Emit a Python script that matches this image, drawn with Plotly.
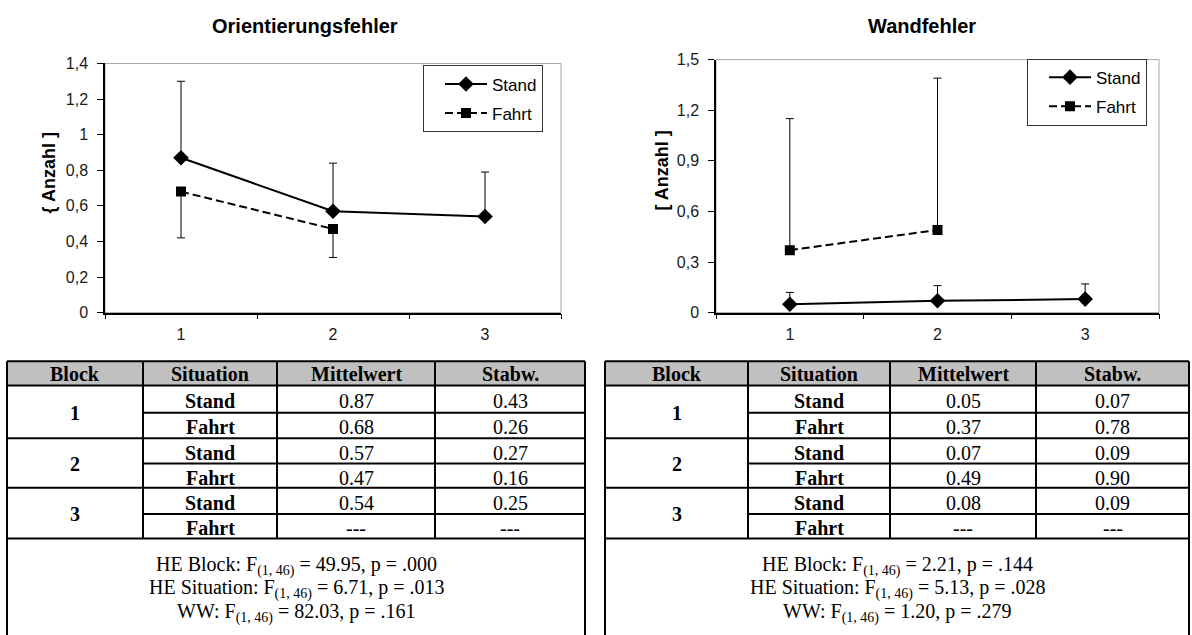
import plotly.graph_objects as go

W, H = 1192, 635

# ---------------- data ----------------
blocks = [1, 2, 3]
blocks_fahrt = [1, 2]
block_labels = ["1", "2", "3"]

orient_stand_mean = [0.87, 0.57, 0.54]
orient_stand_sd = [0.43, 0.27, 0.25]
orient_fahrt_mean = [0.68, 0.47]
orient_fahrt_sd = [0.26, 0.16]

wand_stand_mean = [0.05, 0.07, 0.08]
wand_stand_sd = [0.07, 0.09, 0.09]
wand_fahrt_mean = [0.37, 0.49]
wand_fahrt_sd = [0.78, 0.90]

orient_yticks = [0, 0.2, 0.4, 0.6, 0.8, 1.0, 1.2, 1.4]
orient_yticktext = ["0", "0,2", "0,4", "0,6", "0,8", "1", "1,2", "1,4"]
wand_yticks = [0, 0.3, 0.6, 0.9, 1.2, 1.5]
wand_yticktext = ["0", "0,3", "0,6", "0,9", "1,2", "1,5"]

table_header = ["Block", "Situation", "Mittelwert", "Stabw."]
situations = ["Stand", "Fahrt"]

orient_tests = [("HE Block", "49.95", ".000"),
                ("HE Situation", "6.71", ".013"),
                ("WW", "82.03", ".161")]
wand_tests = [("HE Block", "2.21", ".144"),
              ("HE Situation", "5.13", ".028"),
              ("WW", "1.20", ".279")]
df_text = "(1, 46)"

# ---------------- helpers ----------------
def fx(px):
    return px / W


def fy(py):
    return 1 - py / H


CHART_FONT = "Liberation Sans, Arial, sans-serif"
TABLE_FONT = "Liberation Serif, Times New Roman, serif"

fig = go.Figure()
shapes = []
annotations = []

panels = [
    dict(title="Orientierungsfehler", ylabel="{ Anzahl ]", xa="x", ya="y",
         x0=105, x1=561, ytop=57, ybot=313, ymax=1.4,
         yticks=orient_yticks, yticktext=orient_yticktext,
         stand=(orient_stand_mean, orient_stand_sd),
         fahrt=(orient_fahrt_mean, orient_fahrt_sd), fahrt_down=True,
         legend="legend", lx0=423, ly0=59, title_x=305, ylab_x=49, ylab_y=170),
    dict(title="Wandfehler", ylabel="[ Anzahl ]", xa="x2", ya="y2",
         x0=716, x1=1159, ytop=53, ybot=313, ymax=1.5,
         yticks=wand_yticks, yticktext=wand_yticktext,
         stand=(wand_stand_mean, wand_stand_sd),
         fahrt=(wand_fahrt_mean, wand_fahrt_sd), fahrt_down=False,
         legend="legend2", lx0=1027, ly0=52, title_x=922, ylab_x=662, ylab_y=167),
]

layout_axes = {}
for i, p in enumerate(panels):
    s_mean, s_sd = p["stand"]
    f_mean, f_sd = p["fahrt"]
    fig.add_trace(go.Scatter(
        x=blocks, y=s_mean, name="Stand", mode="lines+markers",
        xaxis=p["xa"], yaxis=p["ya"], legend=p["legend"], legendgroup="stand",
        line=dict(color="black", width=2),
        marker=dict(symbol="diamond", size=12, color="black"),
        error_y=dict(type="data", symmetric=False, array=s_sd,
                     arrayminus=[0] * len(s_sd), color="black",
                     thickness=1, width=4),
    ))
    if p["fahrt_down"]:
        err = dict(type="data", symmetric=False, array=[0] * len(f_sd),
                   arrayminus=f_sd, color="black", thickness=1, width=4)
    else:
        err = dict(type="data", symmetric=False, array=f_sd,
                   arrayminus=[0] * len(f_sd), color="black", thickness=1, width=4)
    fig.add_trace(go.Scatter(
        x=blocks_fahrt, y=f_mean, name="Fahrt", mode="lines+markers",
        xaxis=p["xa"], yaxis=p["ya"], legend=p["legend"], legendgroup="fahrt",
        line=dict(color="black", width=2, dash="8px,4px"),
        marker=dict(symbol="square", size=10, color="black"),
        error_y=err,
    ))

    suffix = "" if i == 0 else str(i + 1)
    layout_axes["xaxis" + suffix] = dict(
        domain=[fx(p["x0"]), fx(p["x1"])], anchor=p["ya"],
        range=[0.5, 3.5], tickvals=blocks, ticktext=block_labels,
        ticks="", ticklabelstandoff=6,
        showline=True, linecolor="black", linewidth=1.5,
        showgrid=False, zeroline=False,
        minor=dict(tickmode="array", tickvals=[0.5, 1.5, 2.5, 3.5],
                   ticks="outside", ticklen=5, tickcolor="black", tickwidth=1,
                   showgrid=False),
        tickfont=dict(family=CHART_FONT, size=16, color="#1a1a1a"),
    )
    layout_axes["yaxis" + suffix] = dict(
        domain=[fy(p["ybot"]), fy(p["ytop"])], anchor=p["xa"],
        range=[0, p["ymax"]], tickvals=p["yticks"], ticktext=p["yticktext"],
        ticks="outside", ticklen=6, tickcolor="black", tickwidth=1,
        ticklabelstandoff=6,
        showline=True, linecolor="black", linewidth=1.5,
        showgrid=False, zeroline=False,
        tickfont=dict(family=CHART_FONT, size=16, color="#1a1a1a"),
    )
    # light frame around the plot area
    shapes.append(dict(type="rect", xref=p["xa"] + " domain", yref=p["ya"] + " domain",
                       x0=0, x1=1, y0=0, y1=1, layer="below",
                       line=dict(color="#a6a6a6", width=1)))
    annotations.append(dict(text="<b>" + p["title"] + "</b>", x=fx(p["title_x"]),
                            y=fy(18), xref="paper", yref="paper", showarrow=False,
                            xanchor="center", yanchor="middle",
                            font=dict(family=CHART_FONT, size=20, color="black")))
    annotations.append(dict(text="<b>" + p["ylabel"] + "</b>", x=fx(p["ylab_x"]),
                            y=fy(p["ylab_y"]), xref="paper", yref="paper",
                            showarrow=False, textangle=-90,
                            xanchor="center", yanchor="middle",
                            font=dict(family=CHART_FONT, size=18, color="black")))
    layout_axes[p["legend"]] = dict(
        x=fx(p["lx0"]), y=fy(p["ly0"]), xanchor="left", yanchor="top",
        bordercolor="#333", borderwidth=1, bgcolor="white",
        tracegroupgap=4, itemwidth=42, indentation=16,
        font=dict(family=CHART_FONT, size=17, color="black"),
    )


# ---------------- tables ----------------
def add_table(cols, stand_mean, stand_sd, fahrt_mean, fahrt_sd, tests):
    top, head_bot = 363, 388
    row_edges = [388, 416, 442, 468, 493, 520, 545]
    bottom = 660
    xl, xr = cols[0], cols[-1]
    line = dict(color="black", width=2)

    def hline(y, a, b):
        shapes.append(dict(type="line", xref="paper", yref="paper",
                           x0=fx(a), x1=fx(b), y0=fy(y), y1=fy(y), line=line))

    def vline(x, a, b):
        shapes.append(dict(type="line", xref="paper", yref="paper",
                           x0=fx(x), x1=fx(x), y0=fy(a), y1=fy(b), line=line))

    shapes.append(dict(type="rect", xref="paper", yref="paper",
                       x0=fx(xl), x1=fx(xr), y0=fy(head_bot), y1=fy(top),
                       fillcolor="#c0c0c0", line=dict(width=0), layer="below"))
    hline(top, xl, xr)
    hline(head_bot, xl, xr)
    for k, y in enumerate(row_edges[1:]):
        if k % 2 == 0:
            hline(y, cols[1], xr)
        else:
            hline(y, xl, xr)
    vline(xl, top, bottom)
    vline(xr, top, bottom)
    for c in cols[1:-1]:
        vline(c, top, row_edges[-1])

    def txt(s, xc, yc, bold=False):
        annotations.append(dict(text=("<b>%s</b>" % s) if bold else s,
                                x=fx(xc), y=fy(yc), xref="paper", yref="paper",
                                showarrow=False, xanchor="center", yanchor="middle",
                                font=dict(family=TABLE_FONT, size=20, color="black")))

    centers = [(cols[j] + cols[j + 1]) / 2 for j in range(4)]
    for j, h in enumerate(table_header):
        txt(h, centers[j], (top + head_bot) / 2 + 1, bold=True)

    for b in range(len(blocks)):
        r0 = row_edges[2 * b]
        r1 = row_edges[2 * b + 1]
        r2 = row_edges[2 * b + 2]
        txt(block_labels[b], centers[0], (r0 + r2) / 2 + 1, bold=True)
        txt(situations[0], centers[1], (r0 + r1) / 2 + 2, bold=True)
        txt("%.2f" % stand_mean[b], centers[2], (r0 + r1) / 2 + 2)
        txt("%.2f" % stand_sd[b], centers[3], (r0 + r1) / 2 + 2)
        txt(situations[1], centers[1], (r1 + r2) / 2 + 2, bold=True)
        if b < len(fahrt_mean):
            txt("%.2f" % fahrt_mean[b], centers[2], (r1 + r2) / 2 + 2)
            txt("%.2f" % fahrt_sd[b], centers[3], (r1 + r2) / 2 + 2)
        else:
            txt("---", centers[2], (r1 + r2) / 2 + 2)
            txt("---", centers[3], (r1 + r2) / 2 + 2)

    mid = (xl + xr) / 2
    for k, (lab, fval, pval) in enumerate(tests):
        s = "%s: F<sub>%s</sub> = %s, p = %s" % (lab, df_text, fval, pval)
        txt(s, mid, [573, 597, 622][k])


add_table([7, 143, 277, 435, 585], orient_stand_mean, orient_stand_sd,
          orient_fahrt_mean, orient_fahrt_sd, orient_tests)
add_table([605, 748, 890, 1036, 1189], wand_stand_mean, wand_stand_sd,
          wand_fahrt_mean, wand_fahrt_sd, wand_tests)

fig.update_layout(
    width=W, height=H, margin=dict(l=0, r=0, t=0, b=0),
    paper_bgcolor="white", plot_bgcolor="white",
    shapes=shapes, annotations=annotations,
    showlegend=True,
    **layout_axes,
)

fig.write_html("out.html")
